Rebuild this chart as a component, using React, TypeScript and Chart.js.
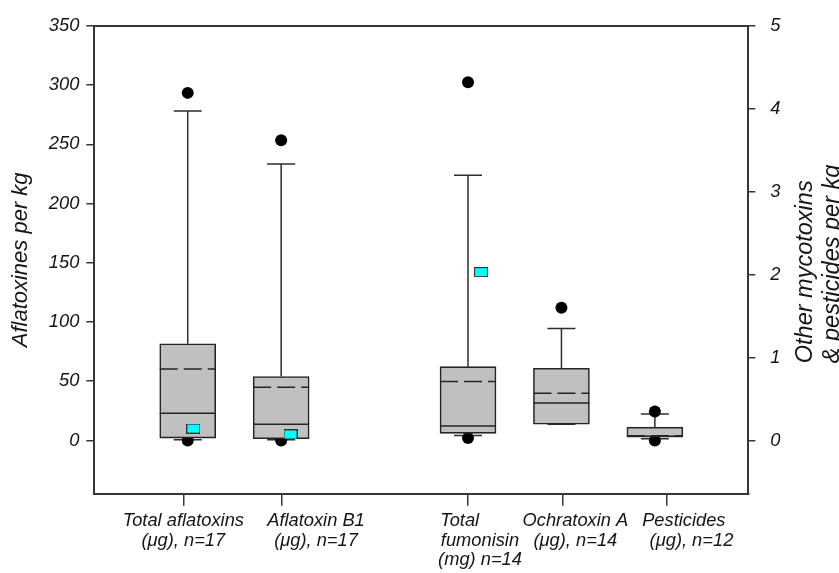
import React, { useEffect, useRef } from 'react';
import { Chart, registerables } from 'chart.js';

Chart.register(...registerables);

// ---------- data ----------
const categories = ['Total aflatoxins', 'Aflatoxin B1', 'Total fumonisin', 'Ochratoxin A', 'Pesticides'];
const boxPositions = [1, 2, 4, 5, 6];
const boxAxis = ['y', 'y', 'y1', 'y1', 'y1'];
const q1Values = [2.0, 1.4, 0.085, 0.195, 0.04];
const q3Values = [81.6, 53.9, 0.89, 0.87, 0.16];
const medianValues = [22.9, 13.7, 0.175, 0.45, 0.05];
const meanValues = [60.4, 45.0, 0.71, 0.57, 0.055];
const whiskerLowValues = [0.6, 0.6, 0.06, 0.195, 0.02];
const whiskerHighValues = [278.1, 233.4, 3.2, 1.35, 0.32];
const outlierHighValues = [293.5, 253.5, 4.32, 1.6, 0.35];
const outlierLowValues: (number | null)[] = [0, 0, 0.03, null, 0.0];

const limitPositions = [1.06, 2.1, 4.14];
const limitValues = [10, 5, 2.03];
const limitAxis = ['y', 'y', 'y1'];

const xTickPositions = [0.96, 2.01, 4.0, 5.01, 6.13];
const xLabelPositions = [0.953, 2.373, 4.128, 5.149, 6.31];
const xLabels = [
  ['Total aflatoxins', '(μg), n=17'],
  ['Aflatoxin B1', '(μg), n=17'],
  ['Total        ', 'fumonisin', '(mg) n=14'],
  ['Ochratoxin A', '(μg), n=14'],
  ['Pesticides', '   (μg), n=12'],
];
const leftTicks = [0, 50, 100, 150, 200, 250, 300, 350];
const rightTicks = [0, 1, 2, 3, 4, 5];
const leftMin = -45;
const leftMax = 350;
const rightMin = -45 / 70;
const rightMax = 5;
const leftTitle = 'Aflatoxines per kg';
const rightTitle = ['Other mycotoxins', '& pesticides per kg'];

// ---------- styles ----------
const FONT = 'Arial, "Liberation Sans", sans-serif';
const TEXT = '#151515';
const AXIS = '#363636';
const BOX_FILL = '#c0c0c0';
const BOX_LINE = '#242424';
const BOX_W = 56;
const CAP_HALF = 14;

function idxFor(axis: string) {
  return boxPositions.map((_, i) => i).filter((i) => boxAxis[i] === axis);
}

function makeCyan(): HTMLCanvasElement {
  const c = document.createElement('canvas');
  c.width = 14;
  c.height = 10;
  const g = c.getContext('2d')!;
  g.fillStyle = '#00ffff';
  g.fillRect(0.5, 0.5, 13, 9);
  g.strokeStyle = '#333333';
  g.lineWidth = 1;
  g.strokeRect(0.5, 0.5, 13, 9);
  return c;
}

const boxPlugin = {
  id: 'boxExtras',
  beforeDatasetsDraw(chart: any) {
    const { ctx } = chart;
    const xs = chart.scales.x;
    ctx.save();
    ctx.strokeStyle = '#2e2e2e';
    ctx.lineWidth = 1.5;
    boxPositions.forEach((p, i) => {
      const ys = chart.scales[boxAxis[i]];
      const x = xs.getPixelForValue(p);
      const yq3 = ys.getPixelForValue(q3Values[i]);
      const yHi = ys.getPixelForValue(whiskerHighValues[i]);
      const yq1 = ys.getPixelForValue(q1Values[i]);
      const yLo = ys.getPixelForValue(whiskerLowValues[i]);
      ctx.beginPath();
      ctx.moveTo(x, yq3);
      ctx.lineTo(x, yHi);
      ctx.moveTo(x - CAP_HALF, yHi);
      ctx.lineTo(x + CAP_HALF, yHi);
      ctx.moveTo(x, yq1);
      ctx.lineTo(x, yLo);
      ctx.moveTo(x - CAP_HALF, yLo);
      ctx.lineTo(x + CAP_HALF, yLo);
      ctx.stroke();
    });
    ctx.restore();
  },
  afterDatasetsDraw(chart: any) {
    const { ctx } = chart;
    const xs = chart.scales.x;
    ctx.save();
    ctx.strokeStyle = BOX_LINE;
    ctx.lineWidth = 1.5;
    boxPositions.forEach((p, i) => {
      const ys = chart.scales[boxAxis[i]];
      const x = xs.getPixelForValue(p);
      const x0 = x - BOX_W / 2;
      const x1 = x + BOX_W / 2;
      const ym = ys.getPixelForValue(medianValues[i]);
      ctx.setLineDash([]);
      ctx.beginPath();
      ctx.moveTo(x0, ym);
      ctx.lineTo(x1, ym);
      ctx.stroke();
      const ya = ys.getPixelForValue(meanValues[i]);
      ctx.setLineDash([18, 6]);
      ctx.beginPath();
      ctx.moveTo(x0, ya);
      ctx.lineTo(x1, ya);
      ctx.stroke();
    });
    ctx.restore();
  },
  afterDraw(chart: any) {
    const { ctx, chartArea } = chart;
    ctx.save();
    ctx.strokeStyle = AXIS;
    ctx.lineWidth = 2;
    ctx.beginPath();
    ctx.moveTo(chartArea.left - 1, chartArea.top);
    ctx.lineTo(chartArea.right + 1, chartArea.top);
    ctx.stroke();
    ctx.fillStyle = TEXT;
    ctx.font = `italic 23.5px ${FONT}`;
    ctx.textAlign = 'left';
    ctx.textBaseline = 'alphabetic';
    rightTitle.forEach((line, i) => {
      ctx.save();
      ctx.translate(chartArea.right + 63.7 + i * 27.3, chartArea.bottom - 130.5);
      ctx.rotate(-Math.PI / 2);
      ctx.fillText(line, 0, 0);
      ctx.restore();
    });
    ctx.restore();
  },
};

export default function App() {
  const ref = useRef<HTMLCanvasElement | null>(null);

  useEffect(() => {
    document.body.style.margin = '0';
    const canvas = ref.current;
    if (!canvas) return;
    const cyan = makeCyan();
    const tickFont = { family: FONT, size: 18.3, style: 'italic' as const };

    const outlierData = (axis: string) => {
      const pts: { x: number; y: number }[] = [];
      idxFor(axis).forEach((i) => {
        pts.push({ x: boxPositions[i], y: outlierHighValues[i] });
        const lo = outlierLowValues[i];
        if (lo !== null) pts.push({ x: boxPositions[i], y: lo });
      });
      return pts;
    };
    const boxData = (axis: string) =>
      idxFor(axis).map((i) => ({ x: boxPositions[i], y: [q1Values[i], q3Values[i]] }));
    const limitData = (axis: string) =>
      limitPositions
        .map((p, i) => ({ x: p, y: limitValues[i], a: limitAxis[i] }))
        .filter((d) => d.a === axis)
        .map((d) => ({ x: d.x, y: d.y }));

    const outlierStyle = {
      type: 'scatter' as const,
      xAxisID: 'x',
      pointRadius: 6,
      pointBackgroundColor: '#000000',
      pointBorderWidth: 0,
      order: 3,
    };
    const barStyle = {
      type: 'bar' as const,
      xAxisID: 'x',
      backgroundColor: BOX_FILL,
      borderColor: BOX_LINE,
      borderWidth: 1.6,
      borderSkipped: false,
      barThickness: BOX_W,
      grouped: false,
      order: 2,
    };
    const limitStyle = {
      type: 'scatter' as const,
      xAxisID: 'x',
      pointStyle: cyan,
      pointRadius: 6,
      order: 1,
    };

    const chart = new Chart(canvas, {
      type: 'bar',
      data: {
        datasets: [
          { ...outlierStyle, label: 'outliers (aflatoxins)', yAxisID: 'y', data: outlierData('y') },
          { ...outlierStyle, label: 'outliers (others)', yAxisID: 'y1', data: outlierData('y1') },
          { ...barStyle, label: 'boxes (aflatoxins)', yAxisID: 'y', data: boxData('y') },
          { ...barStyle, label: 'boxes (others)', yAxisID: 'y1', data: boxData('y1') },
          { ...limitStyle, label: 'limit (aflatoxins)', yAxisID: 'y', data: limitData('y') },
          { ...limitStyle, label: 'limit (others)', yAxisID: 'y1', data: limitData('y1') },
        ] as any,
      },
      options: {
        animation: false,
        responsive: false,
        devicePixelRatio: 1,
        events: [],
        layout: { padding: { top: 22.7, left: 0, right: 0, bottom: 0 } },
        plugins: {
          legend: { display: false },
          tooltip: { enabled: false },
          title: { display: false },
        },
        scales: {
          x: {
            type: 'linear',
            position: 'bottom',
            min: 0,
            max: 7,
            offset: false,
            weight: 0,
            afterBuildTicks: (s: any) => {
              s.ticks = xTickPositions.map((v) => ({ value: v }));
            },
            afterFit: (s: any) => {
              s.height = 12;
            },
            ticks: { display: false },
            grid: {
              display: true,
              drawOnChartArea: false,
              drawTicks: true,
              tickLength: 12,
              color: AXIS,
              lineWidth: 1.5,
              offset: false,
            },
            border: { display: true, color: AXIS, width: 2 },
          },
          x2: {
            type: 'linear',
            position: 'bottom',
            min: 0,
            max: 7,
            offset: false,
            weight: 1,
            afterBuildTicks: (s: any) => {
              s.ticks = xLabelPositions.map((v) => ({ value: v }));
            },
            afterFit: (s: any) => {
              s.height = 67.3;
            },
            ticks: {
              display: true,
              autoSkip: false,
              maxRotation: 0,
              minRotation: 0,
              padding: 5.4,
              color: TEXT,
              font: { ...tickFont, lineHeight: 1.07 },
              callback: (_v: any, i: number) => xLabels[i],
            },
            grid: { display: false, drawTicks: false, offset: false },
            border: { display: false },
          },
          y: {
            type: 'linear',
            position: 'left',
            min: leftMin,
            max: leftMax,
            afterBuildTicks: (s: any) => {
              s.ticks = leftTicks.map((v) => ({ value: v }));
            },
            afterFit: (s: any) => {
              s.width = 94.3;
            },
            ticks: { padding: 7, color: TEXT, font: tickFont },
            grid: {
              drawOnChartArea: false,
              drawTicks: true,
              tickLength: 8,
              color: AXIS,
              lineWidth: 1.5,
            },
            border: { display: true, color: AXIS, width: 2 },
            title: {
              display: true,
              text: leftTitle,
              color: TEXT,
              font: { family: FONT, size: 22, style: 'italic' },
              padding: { top: 7.5, bottom: 0 },
            },
          },
          y1: {
            type: 'linear',
            position: 'right',
            min: rightMin,
            max: rightMax,
            afterBuildTicks: (s: any) => {
              s.ticks = rightTicks.map((v) => ({ value: v }));
            },
            afterFit: (s: any) => {
              s.width = 90.7;
            },
            ticks: { padding: 15, color: TEXT, font: tickFont },
            grid: {
              drawOnChartArea: false,
              drawTicks: true,
              tickLength: 7,
              color: AXIS,
              lineWidth: 1.5,
            },
            border: { display: true, color: AXIS, width: 2 },
            title: { display: false },
          },
        },
      } as any,
      plugins: [boxPlugin],
    });

    return () => {
      chart.destroy();
    };
  }, []);

  return (
    <div style={{ width: 839, height: 573 }} aria-label={categories.join(', ')}>
      <canvas ref={ref} width={839} height={573} style={{ display: 'block' }} />
    </div>
  );
}
